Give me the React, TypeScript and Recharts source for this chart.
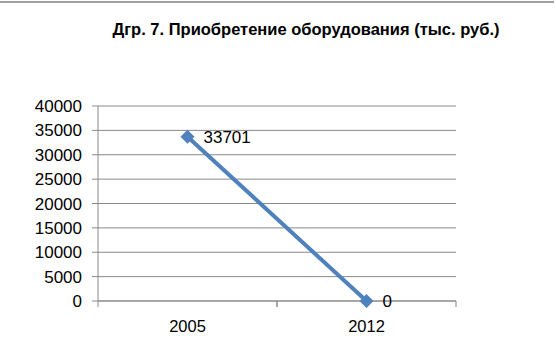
import { LineChart, Line, XAxis, YAxis, CartesianGrid, LabelList } from "recharts";

const years = ["2005", "2012"];
const purchases = [33701, 0];
const yTicks = [0, 5000, 10000, 15000, 20000, 25000, 30000, 35000, 40000];

const data = years.map((year, i) => ({ year, value: purchases[i] }));

const W = 556;
const H = 351;
const PLOT_LEFT = 98;
const PLOT_RIGHT = 456;
const HALF_BAND = (PLOT_RIGHT - PLOT_LEFT) / years.length / 2;
const AXIS = "#898989";
const FONT = "'Liberation Sans', Arial, sans-serif";

function YearTick(props: any) {
  const { x, y, payload } = props;
  return (
    <g>
      <line x1={x - HALF_BAND} y1={y - 8} x2={x - HALF_BAND} y2={y - 2} stroke={AXIS} />
      <line x1={x + HALF_BAND} y1={y - 8} x2={x + HALF_BAND} y2={y - 2} stroke={AXIS} />
      <text x={x} y={y + 23} textAnchor="middle" fontSize={16.5} fill="#000" fontFamily={FONT}>
        {payload.value}
      </text>
    </g>
  );
}

export default function App() {
  return (
    <div style={{ position: "absolute", left: 0, top: 0, width: W, height: H, background: "#fff" }}>
      <div style={{ position: "absolute", left: 0, top: 1, width: 554, borderTop: "2px solid #a0a0a0" }} />
      <div
        style={{
          position: "absolute",
          left: 0,
          top: 20,
          width: 612,
          textAlign: "center",
          fontFamily: FONT,
          fontWeight: "bold",
          fontSize: 16.5,
          lineHeight: "19px",
          color: "#000",
        }}
      >
        Дгр. 7. Приобретение оборудования (тыс. руб.)
      </div>
      <LineChart width={W} height={H} data={data} margin={{ top: 106, right: W - PLOT_RIGHT, bottom: 0, left: 0 }}>
        <CartesianGrid vertical={false} stroke={AXIS} strokeDasharray="" />
        <XAxis
          dataKey="year"
          height={50}
          padding={{ left: HALF_BAND, right: HALF_BAND }}
          axisLine={{ stroke: AXIS }}
          tickLine={false}
          tick={<YearTick />}
          interval={0}
        />
        <YAxis
          width={PLOT_LEFT}
          domain={[0, 40000]}
          ticks={yTicks}
          interval={0}
          axisLine={{ stroke: AXIS }}
          tickLine={{ stroke: AXIS }}
          tickSize={6}
          tickMargin={10}
          tick={{ fill: "#000", fontSize: 17, fontFamily: FONT }}
        />
        <Line
          dataKey="value"
          stroke="#4F81BD"
          strokeWidth={4}
          isAnimationActive={false}
          dot={(p: any) => (
            <path
              key={p.index}
              d={`M${p.cx},${p.cy - 7}L${p.cx + 7},${p.cy}L${p.cx},${p.cy + 7}L${p.cx - 7},${p.cy}Z`}
              fill="#4F81BD"
            />
          )}
        >
          <LabelList dataKey="value" position="right" offset={16} fill="#000" fontSize={17} fontFamily={FONT} />
        </Line>
      </LineChart>
    </div>
  );
}
